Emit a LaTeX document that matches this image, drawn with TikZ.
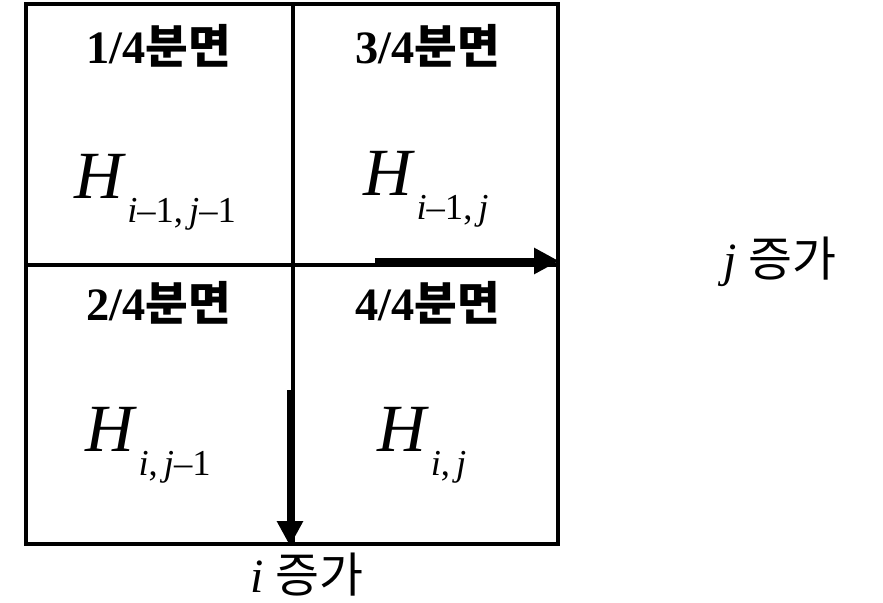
\documentclass[tikz,border=0pt]{standalone}
\usepackage{fontspec}
\setmainfont{Liberation Serif}
\newfontfamily\kr{Noto Sans CJK KR}
\usetikzlibrary{arrows.meta}
\newcommand{\hsub}[2]{\textit{#1}\kern1pt\raisebox{-0.36em}{\fontsize{26}{28}\selectfont #2}}
\tikzset{
  quad/.style={font=\fontsize{33}{38}\selectfont\bfseries},
  hval/.style={font=\fontsize{48}{52}\selectfont},
  dirlabel/.style={font=\fontsize{34}{38}\selectfont},
  growarrow/.style={line width=4.2pt, -{Triangle[length=0.62cm,width=0.62cm]}}
}
\begin{document}
\begin{tikzpicture}[x=0.025cm, y=-0.025cm]
    \useasboundingbox (0,0) rectangle (883,603);
    \draw[line width=2.2pt] (26,4) rectangle (558,544);
    \draw[line width=2.2pt] (293,4) -- (293,544);
    \draw[line width=2.2pt] (26,265) -- (558,265);
    % Quadrant titles
    \node[quad] (t1) at (159,46) {1/4{\kr 분면}};
    \node[quad] (t3) at (428,46) {3/4{\kr 분면}};
    \node[quad] (t2) at (159,303) {2/4{\kr 분면}};
    \node[quad] (t4) at (428,303) {4/4{\kr 분면}};
    % Values
    \node[hval] (h1) at (155,192) {\hsub{H}{\textit{i}–1,\,\textit{j}–1}};
    \node[hval] (h3) at (426,189) {\hsub{H}{\textit{i}–1,\,\textit{j}}};
    \node[hval] (h2) at (148,445) {\hsub{H}{\textit{i},\,\textit{j}–1}};
    \node[hval] (h4) at (422,445) {\hsub{H}{\textit{i},\,\textit{j}}};
    % Directions
    \coordinate (jfrom) at (375,261);
    \coordinate (jto) at (559,261);
    \coordinate (ifrom) at (290,390);
    \coordinate (ito) at (290,546);
    \draw[growarrow] (jfrom) -- (jto);
    \draw[growarrow] (ifrom) -- (ito);
    \node[dirlabel] (jinc) at (780,262) {\textit{j} {\kr 증가}};
    \node[dirlabel] (iinc) at (307,575) {\textit{i} {\kr 증가}};
\end{tikzpicture}
\end{document}
